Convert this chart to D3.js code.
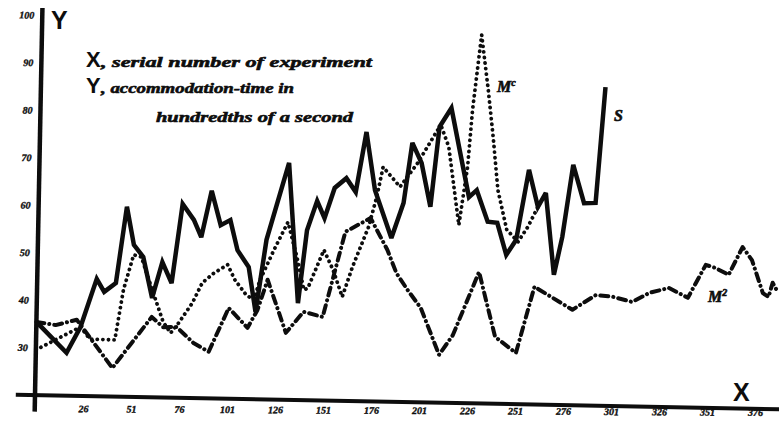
<!DOCTYPE html>
<html>
<head>
<meta charset="utf-8">
<script src="https://cdn.jsdelivr.net/npm/d3@7"></script>
<style>
  html, body { margin: 0; padding: 0; background: #fff; }
  svg { display: block; }
</style>
</head>
<body>
<svg id="chart" width="779" height="425"></svg>
<script>
// Axis ticks
const xTicks = [26, 51, 76, 101, 126, 151, 176, 201, 226, 251, 276, 301, 326, 351, 376];
const yTicks = [30, 40, 50, 60, 70, 80, 90, 100];

// Series S (solid): serial number of experiment, accommodation-time
const sX = [1, 17, 24, 32, 36, 42, 47, 51, 56, 61, 66, 71, 76, 82, 86, 91, 96, 101, 105, 111,
            115, 120, 131, 137, 141, 146, 150, 155, 161, 166, 171, 176, 185, 191, 195, 200, 205, 209, 215, 220,
            225, 229, 235, 240, 245, 250, 256, 261, 265, 270, 274, 279, 285, 291, 295];
const sY = [35.4, 29.0, 34.5, 44.7, 42.0, 43.9, 60.0, 52.0, 49.5, 40.9, 48.5, 44.1, 60.8, 57.5, 53.9, 63.7, 56.5, 57.6, 51.3, 47.8,
            38.4, 53.6, 69.9, 40.4, 55.8, 62.0, 58.4, 64.8, 66.9, 64.0, 76.7, 64.5, 54.5, 61.9, 74.6, 70.4, 61.2, 78.1, 82.1, 72.7,
            63.4, 64.9, 58.3, 58.1, 51.4, 54.6, 69.4, 61.6, 64.6, 47.4, 55.4, 70.6, 62.6, 62.7, 87.1];

// Series Mc (dotted)
const mcX = [1, 24, 29, 42, 46, 51, 55, 61, 67, 71, 75, 82, 87, 93, 100, 104, 110, 114, 117, 124,
             131, 136, 140, 142, 150, 155, 160, 165, 173, 177, 180, 189, 198, 208, 210, 214, 220, 224, 226, 230,
             234, 237, 240, 245, 251, 256, 261];
const mcY = [29.5, 34.5, 32.0, 31.9, 42.5, 49.9, 49.5, 42.6, 35.9, 33.6, 35.7, 40.0, 44.3, 46.4, 48.2, 45.0, 41.9, 40.9, 45.1, 51.5,
             57.4, 50.1, 43.2, 43.6, 51.7, 47.5, 41.9, 48.2, 56.7, 63.1, 69.4, 65.3, 70.4, 77.4, 78.1, 73.9, 57.5, 69.8, 81.8, 97.6,
             86.0, 76.2, 65.0, 56.7, 54.2, 57.4, 61.6];

// Series M2 (dash-dot)
const m2X = [1, 11, 22, 41, 52, 61, 67, 74, 83, 91, 101, 111, 116, 121, 131, 140, 150, 161, 174, 183,
             188, 194, 201, 211, 218, 231, 240, 251, 260, 280, 292, 301, 311, 320, 330, 340, 349, 354, 361, 368,
             373, 379, 382, 384, 387];
const m2Y = [35.4, 34.8, 36.0, 26.0, 32.0, 36.9, 34.8, 34.9, 31.6, 29.8, 39.1, 35.0, 38.8, 45.2, 34.1, 38.6, 37.6, 55.6, 58.6, 52.0,
             47.1, 43.6, 39.9, 30.1, 34.3, 47.7, 34.1, 30.8, 44.8, 40.1, 43.3, 43.0, 42.0, 44.0, 45.1, 43.1, 50.1, 49.5, 48.1, 54.0,
             51.3, 44.4, 43.6, 46.6, 44.5];

const INK = "#0d0d0d";
const tickFont = "'Liberation Serif', 'DejaVu Serif', serif";
const scriptFont = "'Liberation Serif', 'DejaVu Serif', serif";
const capFont = "'Liberation Sans', 'DejaVu Sans', Arial, sans-serif";

const x = d3.scaleLinear().domain([1, 376]).range([35, 755]);
const y = d3.scaleLinear().domain([20, 100]).range([395, 15]);

const svg = d3.select("#chart");
svg.append("rect").attr("width", 779).attr("height", 425).attr("fill", "#fff");

// The plate is set slightly askew: the whole plot turns about its origin
const g = svg.append("g")
  .attr("transform", `rotate(1.1 ${x(1)} ${y(20)})`);

// Bold italic numerals, thickened a little with a thin outline
function styleTicks(sel) {
  sel.attr("fill", INK)
    .attr("stroke", INK)
    .attr("stroke-width", 0.35)
    .attr("font-family", tickFont)
    .attr("font-size", 10)
    .attr("font-style", "italic")
    .attr("font-weight", "bold");
}

// X axis tick labels: lettered along a nearly level row under the rule
const xAxis = d3.axisBottom(x).tickValues(xTicks).tickSize(0).tickPadding(10).tickFormat(d => d);
svg.append("g")
  .attr("transform", `translate(0,${y(20)}) rotate(0.3 ${x(1)} 0)`)
  .call(xAxis)
  .call(a => a.select(".domain").remove())
  .selectAll("text")
  .call(styleTicks);

// Y axis tick labels
const yAxis = d3.axisLeft(y).tickValues(yTicks).tickSize(0).tickPadding(8).tickFormat(d => d);
g.append("g")
  .attr("transform", `translate(${x(1)},0)`)
  .call(yAxis)
  .call(a => a.select(".domain").remove())
  .selectAll("text")
  .call(styleTicks);

// Heavy axis rules
g.append("line")
  .attr("x1", x(-9)).attr("x2", x(392))
  .attr("y1", y(20)).attr("y2", y(20))
  .attr("stroke", INK).attr("stroke-width", 4);
g.append("line")
  .attr("x1", x(1)).attr("x2", x(1))
  .attr("y1", y(101.5)).attr("y2", y(16.5))
  .attr("stroke", INK).attr("stroke-width", 4.5);

const line = d3.line().x(d => x(d[0])).y(d => y(d[1]));

// Dash-dot curve
g.append("path")
  .datum(d3.zip(m2X, m2Y))
  .attr("d", line)
  .attr("fill", "none")
  .attr("stroke", INK)
  .attr("stroke-width", 4)
  .attr("stroke-linecap", "round")
  .attr("stroke-linejoin", "round")
  .attr("stroke-dasharray", "8 5 0.1 5");

// Dotted curve
g.append("path")
  .datum(d3.zip(mcX, mcY))
  .attr("d", line)
  .attr("fill", "none")
  .attr("stroke", INK)
  .attr("stroke-width", 3.8)
  .attr("stroke-linecap", "round")
  .attr("stroke-linejoin", "round")
  .attr("stroke-dasharray", "0.1 5.5");

// Solid curve
g.append("path")
  .datum(d3.zip(sX, sY))
  .attr("d", line)
  .attr("fill", "none")
  .attr("stroke", INK)
  .attr("stroke-width", 4.5)
  .attr("stroke-linejoin", "miter")
  .attr("stroke-miterlimit", 3);

// Axis letters
svg.append("text").attr("x", 51).attr("y", 29)
  .attr("font-family", capFont).attr("font-weight", "bold").attr("font-size", 25)
  .attr("fill", INK).text("Y");
svg.append("text").attr("x", 733).attr("y", 401)
  .attr("font-family", capFont).attr("font-weight", "bold").attr("font-size", 25)
  .attr("fill", INK).text("X");

// Key
const key = svg.append("g").attr("fill", INK);
function scriptText(px, py, len, str) {
  key.append("text").attr("x", px).attr("y", py)
    .attr("font-family", scriptFont).attr("font-weight", "bold").attr("font-style", "italic")
    .attr("stroke", INK).attr("stroke-width", 0.6)
    .attr("font-size", 15).attr("textLength", len).attr("lengthAdjust", "spacingAndGlyphs")
    .text(str);
}
key.append("text").attr("x", 86).attr("y", 67)
  .attr("font-family", capFont).attr("font-weight", "bold").attr("font-size", 22).text("X");
scriptText(101, 67, 271, ", serial number of experiment");
key.append("text").attr("x", 86).attr("y", 93)
  .attr("font-family", capFont).attr("font-weight", "bold").attr("font-size", 22).text("Y");
scriptText(101, 93, 193, ", accommodation-time in");
scriptText(156, 122, 197, "hundredths of a second");

// Curve names
function curveName(px, py, base, sup) {
  const t = svg.append("text").attr("x", px).attr("y", py)
    .attr("font-family", scriptFont).attr("font-weight", "bold").attr("font-style", "italic")
    .attr("stroke", INK).attr("stroke-width", 0.6)
    .attr("font-size", 16).attr("fill", INK).text(base);
  if (sup) {
    t.append("tspan").attr("dy", -6).attr("font-size", 10).text(sup);
  }
}
curveName(497, 92, "M", "c");
curveName(614, 121, "S", null);
curveName(708, 302, "M", "2");
</script>
</body>
</html>
